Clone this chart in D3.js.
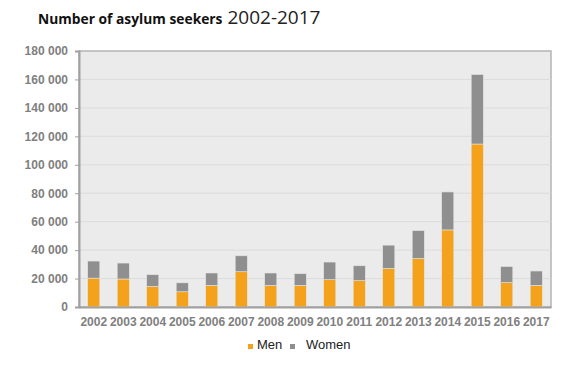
<!DOCTYPE html>
<meta charset="utf-8">
<script src="https://d3js.org/d3.v7.min.js"></script>
<style>
  body { margin: 0; background: #fff; }
</style>
<div id="chart"></div>
<script>
// data
var years = ["2002","2003","2004","2005","2006","2007","2008","2009","2010","2011","2012","2013","2014","2015","2016","2017"];
var men   = [20300, 19700, 14500, 10700, 15200, 24800, 15200, 15200, 19200, 18500, 27100, 34100, 54200, 114600, 17100, 15200];
var women = [12000, 11200,  8200,  6300,  8700, 11200,  8700,  8200, 12400, 10500, 16400, 19600, 26700,  48900, 11400, 10100];
var yTicks = [0, 20000, 40000, 60000, 80000, 100000, 120000, 140000, 160000, 180000];

var W = 581, H = 369;
var margin = {top: 51, right: 30, bottom: 62, left: 79},
    width = W - margin.left - margin.right,
    height = H - margin.top - margin.bottom;

var svg = d3.select("#chart").append("svg")
    .attr("width", W).attr("height", H);

// title
var title = svg.append("text").attr("x", 38).attr("y", 24)
    .style("font-family", "'Open Sans', sans-serif").attr("fill", "#111");
title.append("tspan").text("Number of asylum seekers")
    .style("font-weight", "bold").style("font-size", "13.8px");
title.append("tspan").text(" 2002-2017")
    .style("font-size", "19px").attr("fill", "#222");

var g = svg.append("g").attr("transform", "translate(" + margin.left + "," + margin.top + ")");

var x = d3.scaleBand().domain(years).range([0, width]).paddingInner(0.59).paddingOuter(0.295);
var y = d3.scaleLinear().domain([0, 180000]).range([height, 0]);

// plot background
g.append("rect").attr("width", width).attr("height", height)
    .attr("fill", "#ebebeb").attr("stroke", "#b4b4b4").attr("stroke-width", 1.5);

// gridlines
g.selectAll(".grid").data(yTicks.slice(1, -1)).enter().append("line")
    .attr("x1", 0).attr("x2", width)
    .attr("y1", function(d){ return y(d); }).attr("y2", function(d){ return y(d); })
    .attr("stroke", "#dcdcdc").attr("stroke-width", 1);

// stacked bars
var rows = years.map(function(yr, i){ return {year: yr, Men: men[i], Women: women[i]}; });
var stack = d3.stack().keys(["Men", "Women"])(rows);
var colors = {Men: "#f4a11b", Women: "#8f8f8f"};

g.selectAll(".layer").data(stack).enter().append("g")
    .attr("fill", function(d){ return colors[d.key]; })
  .selectAll("rect").data(function(d){ return d; }).enter().append("rect")
    .attr("x", function(d){ return x(d.data.year); })
    .attr("width", x.bandwidth())
    .attr("y", function(d){ return y(d[1]); })
    .attr("height", function(d){ return y(d[0]) - y(d[1]); })
    .attr("stroke", "#e4e4e4").attr("stroke-width", 0.6);

// y axis
var yAxis = g.append("g").call(d3.axisLeft(y).tickValues(yTicks)
    .tickFormat(function(d){ return d3.format(",")(d).replace(/,/g, " "); })
    .tickSize(4).tickPadding(7));
yAxis.select(".domain").attr("stroke", "#a0a0a0").attr("stroke-width", 2);
yAxis.selectAll(".tick line").attr("stroke", "#a0a0a0");
yAxis.selectAll("text").attr("fill", "#808080")
    .style("font-family", "'Liberation Sans', Arial, sans-serif")
    .style("font-size", "12px").style("font-weight", "bold");

// x axis
var xAxis = g.append("g").attr("transform", "translate(0," + height + ")")
    .call(d3.axisBottom(x).tickSize(0).tickPadding(10));
xAxis.select(".domain").attr("stroke", "#a0a0a0").attr("stroke-width", 2);
xAxis.selectAll("text").attr("fill", "#808080")
    .style("font-family", "'Liberation Sans', Arial, sans-serif")
    .style("font-size", "12px").style("font-weight", "bold");

// legend
var legend = [{name: "Men", color: colors.Men, x: 248, tx: 257},
              {name: "Women", color: colors.Women, x: 290, tx: 306}];
var lg = svg.append("g");
lg.selectAll("rect").data(legend).enter().append("rect")
    .attr("x", function(d){ return d.x; }).attr("y", 344)
    .attr("width", 5).attr("height", 5)
    .attr("fill", function(d){ return d.color; });
lg.selectAll("text").data(legend).enter().append("text")
    .attr("x", function(d){ return d.tx; }).attr("y", 349)
    .text(function(d){ return d.name; })
    .attr("fill", "#222")
    .style("font-family", "'Liberation Sans', Arial, sans-serif")
    .style("font-size", "13px");
</script>
